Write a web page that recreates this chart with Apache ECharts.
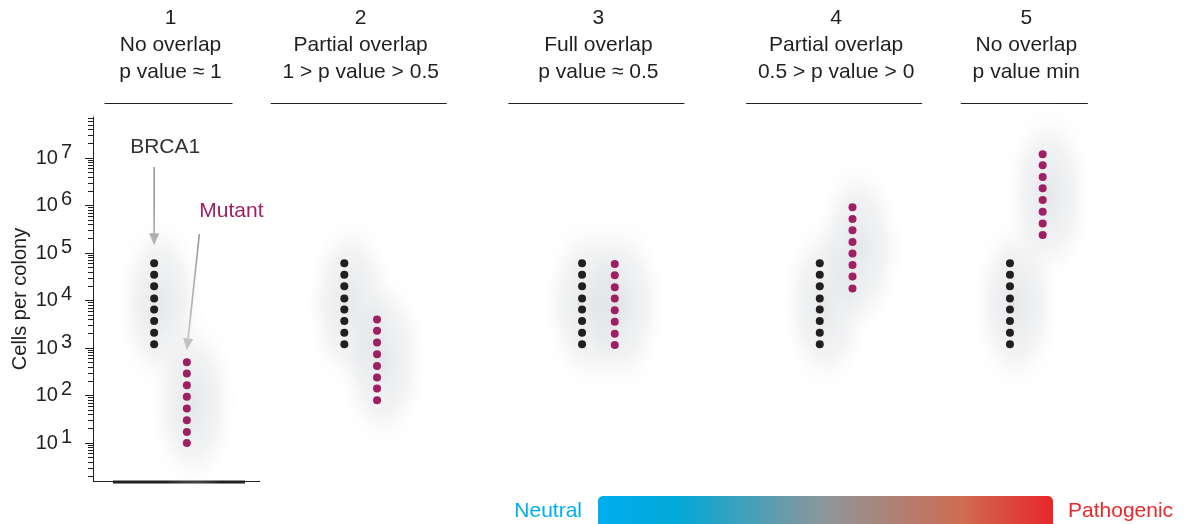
<!DOCTYPE html>
<html><head><meta charset="utf-8">
<script src="https://cdn.jsdelivr.net/npm/echarts@6/dist/echarts.min.js"></script>
<style>html,body{margin:0;padding:0;background:#fff;}#c{width:1189px;height:524px;}</style>
</head><body><div id="c"></div>
<script>
// ---------- data ----------
const groupNumbers = ['1', '2', '3', '4', '5'];
const groupTitles = ['No overlap', 'Partial overlap', 'Full overlap', 'Partial overlap', 'No overlap'];
const groupPValues = ['p value \u2248 1', '1 > p value > 0.5', 'p value \u2248 0.5', '0.5 > p value > 0', 'p value min'];
const groupX = [1, 3, 5.5, 8, 10];

const brca1G1 = [1200, 2100, 3700, 6500, 11000, 20000, 35000, 61000];
const brca1G2 = [1200, 2100, 3700, 6500, 11000, 20000, 35000, 61000];
const brca1G3 = [1200, 2100, 3700, 6500, 11000, 20000, 35000, 61000];
const brca1G4 = [1200, 2100, 3700, 6500, 11000, 20000, 35000, 61000];
const brca1G5 = [1200, 2100, 3700, 6500, 11000, 20000, 35000, 61000];

const mutantG1 = [10, 17, 30, 53, 94, 165, 290, 500];
const mutantG2 = [79, 140, 240, 420, 740, 1300, 2300, 4000];
const mutantG3 = [1150, 2000, 3550, 6200, 11000, 19000, 34000, 59000];
const mutantG4 = [18000, 32000, 56000, 98000, 170000, 300000, 520000, 920000];
const mutantG5 = [240000, 420000, 740000, 1300000, 2300000, 4000000, 7000000, 12000000];

const yLabelValues = [10, 100, 1000, 10000, 100000, 1000000, 10000000];
const yMinorMultipliers = [2, 3, 4, 5, 6, 7, 8, 9];
const yMin = 1.585;
const yMax = 7.3e7;

// ---------- build ----------
const brca1 = [brca1G1, brca1G2, brca1G3, brca1G4, brca1G5];
const mutant = [mutantG1, mutantG2, mutantG3, mutantG4, mutantG5];
const colOffset = 0.172;
const FONT = '"Liberation Sans", Arial, Helvetica, sans-serif';
const INK = '#231f20';
const MAGENTA = '#9e1f63';
const X_MIN = 0.185, X_MAX = 11.185;

const minorValues = [];
[1, 10, 100, 1000, 10000, 100000, 1000000, 10000000].forEach(d => {
  yMinorMultipliers.forEach(m => { const v = m * d; if (v > yMin && v < yMax) minorValues.push(v); });
});

const brcaData = [], mutData = [], glowData = [];
groupX.forEach((gx, i) => {
  brca1[i].forEach(v => brcaData.push([gx - colOffset, v]));
  mutant[i].forEach(v => mutData.push([gx + colOffset, v]));
  glowData.push([gx - colOffset, Math.min(...brca1[i]), Math.max(...brca1[i])]);
  glowData.push([gx + colOffset, Math.min(...mutant[i]), Math.max(...mutant[i])]);
});

const chart = echarts.init(document.getElementById('c'));
const option = {
  animation: false,
  backgroundColor: '#ffffff',
  textStyle: { fontFamily: FONT },
  grid: { left: 93, right: 50, top: 117, bottom: 43, containLabel: false, outerBoundsMode: 'none' },
  xAxis: {
    type: 'value', min: X_MIN, max: X_MAX,
    axisLine: { show: false }, axisTick: { show: false }, axisLabel: { show: false }, splitLine: { show: false }
  },
  yAxis: [{
    type: 'log', min: yMin, max: yMax, logBase: 10, position: 'left',
    name: 'Cells per colony', nameLocation: 'middle', nameGap: 63, nameMoveOverlap: false,
    nameTextStyle: { fontSize: 20, color: INK, fontFamily: FONT },
    axisLine: { show: true, lineStyle: { color: INK, width: 1 } },
    axisTick: { show: true, length: 8, customValues: yLabelValues, lineStyle: { color: INK, width: 1 } },
    axisLabel: {
      show: true, margin: 21, customValues: yLabelValues,
      formatter: v => '{b|10}{s|' + Math.round(Math.log10(v)) + '}',
      rich: {
        b: { fontSize: 20, lineHeight: 32, color: INK, fontFamily: FONT },
        s: { fontSize: 20, lineHeight: 16, verticalAlign: 'top', color: INK, fontFamily: FONT, padding: [0, 0, 0, 3] }
      }
    },
    splitLine: { show: false }
  }, {
    type: 'log', min: yMin, max: yMax, logBase: 10, position: 'left',
    axisLine: { show: false },
    axisTick: { show: true, length: 5, customValues: minorValues, lineStyle: { color: INK, width: 1 } },
    axisLabel: { show: false }, splitLine: { show: false }
  }],
  series: [{
    type: 'custom', z: 1, silent: true,
    renderItem: function (params, api) {
      const p1 = api.coord([api.value(0), api.value(1)]);
      const p2 = api.coord([api.value(0), api.value(2)]);
      const cy = (p1[1] + p2[1]) / 2;
      const ry = Math.abs(p1[1] - p2[1]) / 2 + 55;
      return {
        type: 'circle', x: p1[0] + 6, y: cy, scaleX: 48, scaleY: ry,
        shape: { cx: 0, cy: 0, r: 1 },
        style: {
          fill: {
            type: 'radial', x: 0.5, y: 0.5, r: 0.5,
            colorStops: [
              { offset: 0, color: 'rgba(212,214,217,0.6)' },
              { offset: 0.55, color: 'rgba(224,226,228,0.4)' },
              { offset: 1, color: 'rgba(255,255,255,0)' }
            ]
          }
        }
      };
    },
    data: glowData
  }, {
    name: 'BRCA1', type: 'scatter', z: 3, symbol: 'circle', symbolSize: 8,
    itemStyle: { color: INK, opacity: 1 }, data: brcaData
  }, {
    name: 'Mutant', type: 'scatter', z: 3, symbol: 'circle', symbolSize: 8,
    itemStyle: { color: MAGENTA, opacity: 1 }, data: mutData
  }]
};
chart.setOption(option);

// ---------- annotations ----------
const px = p => chart.convertToPixel({ xAxisIndex: 0, yAxisIndex: 0 }, p);
const headerLineWidth = [128, 176, 176, 176, 127];
const g = [];
const bottomY = px([X_MIN, yMin])[1];
const leftX = px([X_MIN, yMin])[0];

groupX.forEach((gx, i) => {
  const cx = px([gx, 1000])[0];
  g.push({
    type: 'text', x: cx, y: 4.5,
    style: {
      text: groupNumbers[i] + '\n' + groupTitles[i] + '\n' + groupPValues[i],
      fontSize: 21, fontFamily: FONT, lineHeight: 27, fill: INK,
      align: 'center', textAlign: 'center', verticalAlign: 'top'
    }
  });
  g.push({
    type: 'line',
    shape: { x1: cx - 2 - headerLineWidth[i] / 2, y1: 103.5, x2: cx - 2 + headerLineWidth[i] / 2, y2: 103.5 },
    style: { stroke: INK, lineWidth: 1 }
  });
});

// bottom axis segment
g.push({ type: 'line', shape: { x1: leftX, y1: bottomY + 0.5, x2: leftX + 167, y2: bottomY + 0.5 }, style: { stroke: INK, lineWidth: 1 } });
g.push({ type: 'line', shape: { x1: leftX + 20, y1: bottomY + 1, x2: leftX + 152, y2: bottomY + 1 }, style: { stroke: INK, lineWidth: 3 } });

// arrows
function arrow(x1, y1, x2, y2) {
  const dx = x2 - x1, dy = y2 - y1, L = Math.sqrt(dx * dx + dy * dy);
  const ux = dx / L, uy = dy / L, hl = 12, hw = 5;
  const bx = x2 - ux * hl, by = y2 - uy * hl;
  g.push({ type: 'line', shape: { x1: x1, y1: y1, x2: bx, y2: by }, style: { stroke: '#9a9a9a', lineWidth: 1.6 } });
  g.push({ type: 'polygon', shape: { points: [[x2, y2], [bx - uy * hw, by + ux * hw], [bx + uy * hw, by - ux * hw]] }, style: { fill: '#9a9a9a' } });
}
const bTop = px([groupX[0] - colOffset, Math.max(...brca1G1)]);
const mTop = px([groupX[0] + colOffset, Math.max(...mutantG1)]);
arrow(bTop[0], 167, bTop[0], bTop[1] - 18);
arrow(mTop[0] + 12.5, 234, mTop[0], mTop[1] - 12);
g.push({ type: 'text', x: bTop[0] + 11, y: 147, style: { text: 'BRCA1', fontSize: 21, fontFamily: FONT, fill: '#333333', align: 'center', textAlign: 'center', verticalAlign: 'middle' } });
g.push({ type: 'text', x: mTop[0] + 12.5, y: 211, style: { text: 'Mutant', fontSize: 21, fontFamily: FONT, fill: MAGENTA, align: 'left', textAlign: 'left', verticalAlign: 'middle' } });

// gradient legend bar
g.push({
  type: 'rect', shape: { x: 598, y: 496, width: 455, height: 40, r: [5, 5, 0, 0] },
  style: {
    fill: {
      type: 'linear', x: 0, y: 0, x2: 1, y2: 0,
      colorStops: [
        { offset: 0, color: '#00aeef' },
        { offset: 0.18, color: '#03a8d6' },
        { offset: 0.5, color: '#8e969a' },
        { offset: 0.8, color: '#cf6c52' },
        { offset: 1, color: '#e8262a' }
      ]
    }
  }
});
g.push({ type: 'text', x: 582, y: 511, style: { text: 'Neutral', fontSize: 21, fontFamily: FONT, fill: '#00aeef', align: 'right', textAlign: 'right', verticalAlign: 'middle' } });
g.push({ type: 'text', x: 1068, y: 511, style: { text: 'Pathogenic', fontSize: 21, fontFamily: FONT, fill: '#e8282b', align: 'left', textAlign: 'left', verticalAlign: 'middle' } });

chart.setOption({ graphic: { elements: g } });
</script>
</body></html>
